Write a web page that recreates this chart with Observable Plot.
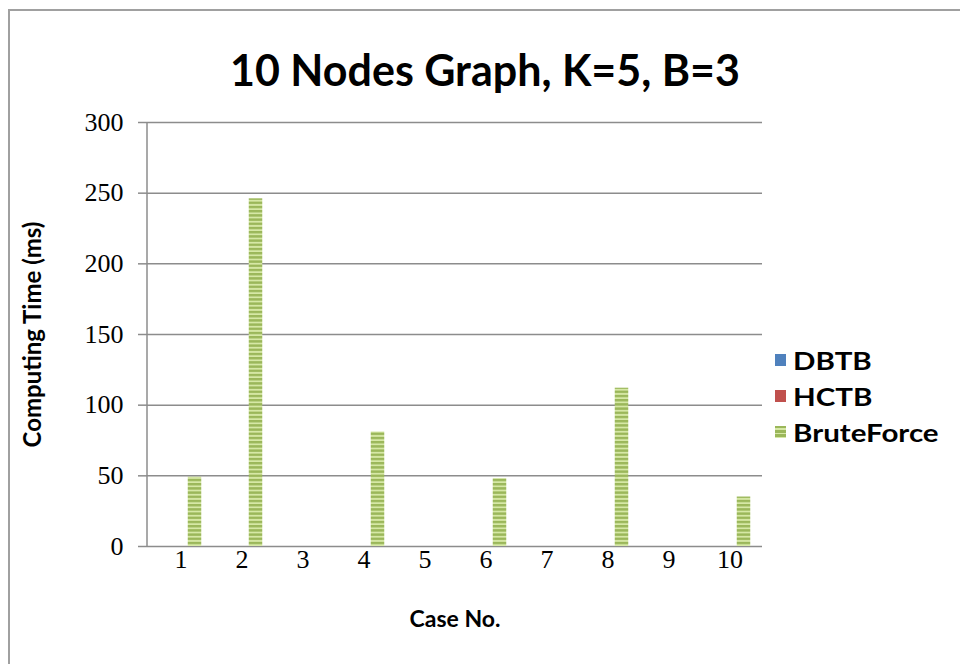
<!DOCTYPE html>
<html><head><meta charset="utf-8">
<script src="https://cdn.jsdelivr.net/npm/d3@7"></script>
<script src="https://cdn.jsdelivr.net/npm/@observablehq/plot@0.6"></script>
<style>
body{margin:0;background:#fff;}
#wrap{position:relative;width:960px;height:664px;overflow:hidden;background:#fff;}
#border{position:absolute;left:8px;top:9px;right:-10px;bottom:-10px;border-left:2px solid #a0a0a0;border-top:2px solid #a0a0a0;pointer-events:none;}
#title{position:absolute;left:0;width:970px;top:46px;line-height:48px;text-align:center;font-family:Lato,"Open Sans",sans-serif;font-weight:bold;font-size:43px;color:#000;}
#plot{position:absolute;left:0;top:0;}
#legend{position:absolute;left:775px;top:342px;font-family:Lato,"Open Sans",sans-serif;font-weight:bold;font-size:25px;color:#000;}
.item{display:flex;align-items:center;height:36px;}
.sw{width:11px;height:12px;margin-right:7px;flex:none;}
.item span{display:inline-block;transform:scaleX(1.18);transform-origin:left center;}
</style></head>
<body><div id="wrap"><div id="plot"></div><div id="title">10 Nodes Graph, K=5, B=3</div><div id="legend"></div><div id="border"></div></div>
<script>
const cases = ["1","2","3","4","5","6","7","8","9","10"];
const series = ["DBTB","HCTB","BruteForce"];
const dbtb = [0,0,0,0,0,0,0,0,0,0];
const hctb = [0,0,0,0,0,0,0,0,0,0];
const bruteForce = [49,246,0,81,0,48,0,112,0,35];
const yTicks = [0,50,100,150,200,250,300];
const colors = {DBTB:"#4F81BD", HCTB:"#C0504D", BruteForce:"url(#stripe)"};

const rows = [];
[dbtb,hctb,bruteForce].forEach((vals,si)=>vals.forEach((v,i)=>rows.push({case:cases[i],series:series[si],value:v})));

const defs = () => {
  const d = d3.create("svg:defs");
  const p = d.append("pattern").attr("id","stripe").attr("patternUnits","userSpaceOnUse").attr("width",8).attr("height",4.2);
  p.append("rect").attr("width",8).attr("height",4.2).attr("fill","#d6e8a6");
  p.append("rect").attr("width",8).attr("height",2.4).attr("fill","#9bb75a");
  return d.node();
};
const leftLine = (index, scales, values, dim) => {
  const g = d3.create("svg:line")
    .attr("x1",dim.marginLeft).attr("x2",dim.marginLeft)
    .attr("y1",dim.marginTop).attr("y2",dim.height-dim.marginBottom)
    .attr("stroke","#8c8c8c").attr("stroke-width",1.5);
  return g.node();
};

const barW = 14;
const bw = (960-147-198)/cases.length;
const inset = (bw-barW)/2;
const barMark = (s, dx) => Plot.barY(rows.filter(r=>r.series===s), {x:"case", y:"value", fill: colors[s], dx, insetLeft:inset, insetRight:inset});
const serif = "'Liberation Serif','DejaVu Serif',serif";
const sans = "Lato,'Open Sans',sans-serif";

const chart = Plot.plot({
  width:960, height:664,
  marginLeft:147, marginRight:198, marginTop:122, marginBottom:118,
  style:{background:"transparent", overflow:"visible"},
  x:{type:"band", domain:cases, padding:0, label:null},
  y:{domain:[0,300], label:null},
  marks:[
    defs,
    Plot.ruleY(yTicks, {stroke:"#8c8c8c", strokeWidth:1.5, strokeOpacity:1}),
    leftLine,
    Plot.axisY(yTicks, {tickSize:9, tickPadding:15, stroke:"#8c8c8c", strokeWidth:1.5, fontSize:26, fontFamily:serif, fill:"#000", label:null}),
    Plot.axisX({tickSize:0, tickPadding:3, fontSize:26, fontFamily:serif, fill:"#000", label:null}),
    barMark("DBTB",-barW), barMark("HCTB",0), barMark("BruteForce",barW),
    Plot.text(["Case No."], {frameAnchor:"bottom", dy:80, fontSize:23, fontWeight:"bold", fontFamily:sans, fill:"#000"}),
    Plot.text(["Computing Time (ms)"], {frameAnchor:"left", textAnchor:"middle", dx:-114, rotate:-90, fontSize:24, fontWeight:"bold", fontFamily:sans, fill:"#000"})
  ]
});
document.getElementById("plot").appendChild(chart);

const leg = d3.select("#legend");
series.forEach(s=>{
  const it = leg.append("div").attr("class","item");
  const sw = it.append("div").attr("class","sw");
  if (s==="BruteForce") sw.style("background","repeating-linear-gradient(to bottom,#9bb75a 0 2.4px,#d6e8a6 2.4px 4.2px)");
  else sw.style("background",colors[s]);
  it.append("span").text(s);
});
</script></body></html>
